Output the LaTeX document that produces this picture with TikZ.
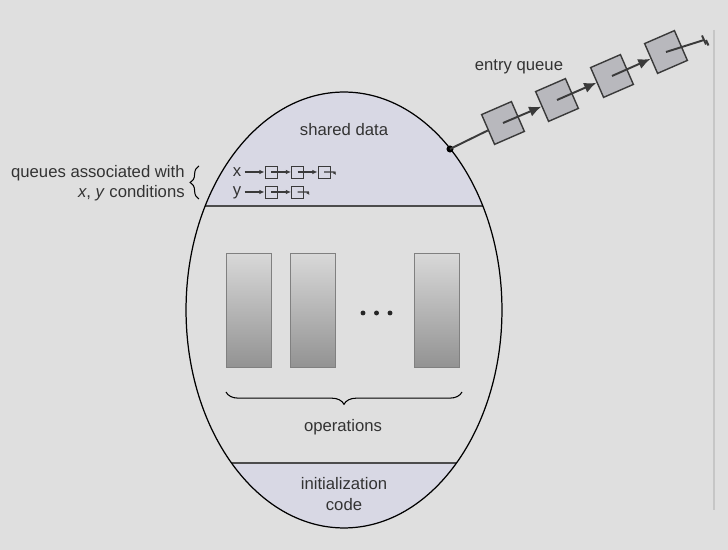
\documentclass[tikz,border=0pt]{standalone}
\usepackage{fontspec}
\setmainfont{Liberation Sans}
\usetikzlibrary{positioning, decorations.pathreplacing, arrows.meta}

\definecolor{slidebg}{HTML}{DFDFDF}
\definecolor{lavender}{HTML}{D8D8E4}
\definecolor{boxgray}{HTML}{B8B8BD}
\definecolor{inkgray}{HTML}{3A3A3A}

\tikzset{
	ebox/.style = {draw = inkgray, fill = boxgray, line width = 0.8pt, minimum size = 0.65cm, inner sep = 0pt, rotate = 23.5},
	qbox/.style = {draw = inkgray, fill = lavender, line width = 0.5pt, minimum size = 0.24cm, inner sep = 0pt},
	oprect/.style = {draw = gray, top color = gray!30, bottom color = gray!85, minimum width = 0.9cm, minimum height = 2.28cm, inner sep = 0pt},
	label/.style = {text = black!80, inner sep = 0pt}
}

\begin{document}
\begin{tikzpicture}[> = {Latex[length = 7pt, width = 6pt]}, x = 0.02cm, y = -0.02cm, font = \fontsize{9.5}{12}\selectfont]

	% Slide background

	\fill [slidebg] (0, 0) rectangle (728, 550);
	\draw [gray!45, line width = 0.8pt] (714, 30) -- (714, 510);

	% Monitor body

	\begin{scope}
		\clip (344, 310) ellipse [x radius = 3.16cm, y radius = 4.36cm];
		\fill [lavender] (0, 0) rectangle (728, 206);
		\fill [lavender] (0, 463) rectangle (728, 550);
		\draw [black!70, line width = 1pt] (0, 206) -- (728, 206);
		\draw [black!70, line width = 1pt] (0, 463) -- (728, 463);
	\end{scope}

	\draw [line width = 0.7pt] (344, 310) ellipse [x radius = 3.16cm, y radius = 4.36cm];

	\node [label] (shared) at (344, 130) {shared data};

	% Condition queues

	\node [label, anchor = base] (xlab) at (237, 177) {x};
	\node [label, anchor = base] (ylab) at (237, 195.5) {y};

	\foreach \n/\x in {1/271, 2/297.5, 3/324}
		\node [qbox] (qx\n) at (\x, 172) {};
	\foreach \n/\x in {1/271, 2/297.5}
		\node [qbox] (qy\n) at (\x, 192) {};

	\begin{scope}[-{Latex[length = 3pt, width = 2.6pt]}, line width = 0.6pt, inkgray]
		\draw (xlab.east |- qx1) ++(3, 0) -- (qx1);
		\draw (qx1.center) -- (qx2);
		\draw (qx2.center) -- (qx3);
		\draw (ylab.east |- qy1) ++(3, 0) -- (qy1);
		\draw (qy1.center) -- (qy2);
	\end{scope}

	\begin{scope}[-{Latex[length = 2pt, width = 2pt]}, line width = 0.6pt, inkgray]
		\draw (qx3.center) -- ++(10, 0) -- ++(2, 3);
		\draw (qy2.center) -- ++(10, 0) -- ++(2, 3);
	\end{scope}

	\draw [decorate, decoration = {brace, amplitude = 5pt}, line width = 0.6pt] (199, 199) -- (199, 166);
	\node [label, anchor = east] (qtext1) at (185, 173) {queues associated with};
	\node [label, anchor = east] (qtext2) at (185, 193) {\textit{x}, \textit{y} conditions};

	% Operations

	\node [oprect] (op1) at (248.5, 310) {};
	\node [oprect] (op2) at (313, 310) {};
	\node [oprect] (op3) at (436.5, 310) {};

	\foreach \x in {363, 376.5, 390}
		\fill [black!85] (\x, 313) circle (1.4pt);

	\draw [decorate, decoration = {brace, amplitude = 7pt, mirror}, line width = 0.6pt] (226, 392) -- (462, 392);
	\node [label] (ops) at (343, 427) {operations};

	% Initialization code

	\node [label, align = center] (init) at (344, 494) {initialization\\code};

	% Entry queue

	\coordinate (door) at (450, 149);
	\fill (door) circle (2pt);

	\node [ebox] (e1) at (503, 123) {};
	\node [ebox] (e2) at (557, 100) {};
	\node [ebox] (e3) at (612, 76) {};
	\node [ebox] (e4) at (666, 52) {};

	\node [label] (entry) at (519, 67) {entry queue};

	\begin{scope}[line width = 1.1pt, inkgray]
		\draw (door) -- (e1);
		\draw [->] (e1.center) -- (e2);
		\draw [->] (e2.center) -- (e3);
		\draw [->] (e3.center) -- (e4);
		\coordinate (null) at (704, 40);
		\draw (e4.center) -- (null);
		\draw (702, 35.5) -- (706, 44.5);
		\draw (706, 40) -- (708.5, 45.5);
	\end{scope}

\end{tikzpicture}
\end{document}
